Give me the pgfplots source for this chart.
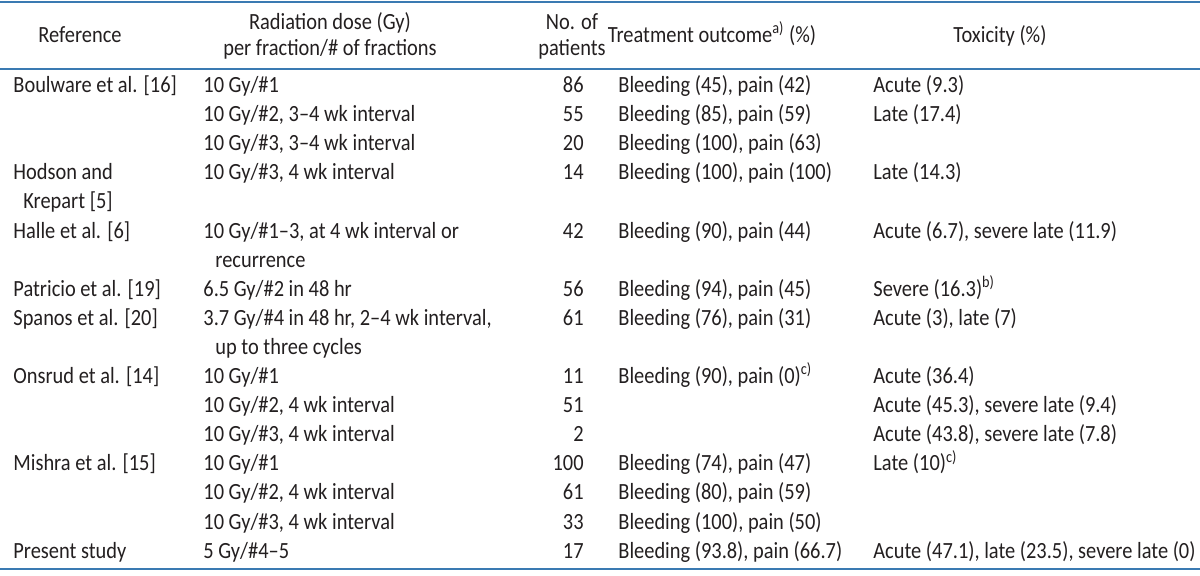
\documentclass[border=0pt]{standalone}
\usepackage{pgfplots}
\pgfplotsset{compat=1.18}
\usepackage{fontspec}
\setmainfont{Carlito}[FakeStretch=0.88]
\definecolor{rule}{HTML}{3A7AB2}
\definecolor{txt}{HTML}{231F20}
\begin{document}
\fontsize{11.6pt}{14pt}\selectfont
\begin{tikzpicture}[every node/.append style={font=\fontsize{11.6pt}{14pt}\selectfont}]
\begin{axis}[name=ax, width=600pt, height=287.5pt, scale only axis,
  xmin=0, xmax=1200, ymin=0, ymax=575, y dir=reverse,
  axis lines=none, clip=false,
  nodes={text=txt, inner sep=0pt}]
% rules
\draw[rule, line width=0.9pt] (axis cs:0,2) -- (axis cs:1200,2);
\draw[rule, line width=0.9pt] (axis cs:0,69) -- (axis cs:1200,69);
\draw[rule, line width=0.9pt] (axis cs:0,569) -- (axis cs:1200,569);
% header
\node[anchor=mid, text=txt, inner sep=0pt] at (axis cs:80,37) {Reference};
\node[anchor=mid, text=txt, inner sep=0pt] at (axis cs:330,24) {Radiation dose (Gy)};
\node[anchor=mid, text=txt, inner sep=0pt] at (axis cs:330,50) {per fraction/\# of fractions};
\node[anchor=mid, text=txt, inner sep=0pt] at (axis cs:572,24) {No. of};
\node[anchor=mid, text=txt, inner sep=0pt] at (axis cs:572,50) {patients};
\node[anchor=mid, text=txt, inner sep=0pt] at (axis cs:712,37) {Treatment outcome\textsuperscript{a)} (\%)};
\node[anchor=mid, text=txt, inner sep=0pt] at (axis cs:1000,37) {Toxicity (\%)};
% column 1
\node[anchor=mid west, text=txt, inner sep=0pt] at (axis cs:13,87.0) {Boulware et al. [16]};
\node[anchor=mid west, text=txt, inner sep=0pt] at (axis cs:13,174.3) {Hodson and};
\node[anchor=mid west, text=txt, inner sep=0pt] at (axis cs:23,203.4) {Krepart [5]};
\node[anchor=mid west, text=txt, inner sep=0pt] at (axis cs:13,232.5) {Halle et al. [6]};
\node[anchor=mid west, text=txt, inner sep=0pt] at (axis cs:13,290.7) {Patricio et al. [19]};
\node[anchor=mid west, text=txt, inner sep=0pt] at (axis cs:13,319.8) {Spanos et al. [20]};
\node[anchor=mid west, text=txt, inner sep=0pt] at (axis cs:13,378.0) {Onsrud et al. [14]};
\node[anchor=mid west, text=txt, inner sep=0pt] at (axis cs:13,465.3) {Mishra et al. [15]};
\node[anchor=mid west, text=txt, inner sep=0pt] at (axis cs:13,552.6) {Present study};
% column 2
\node[anchor=mid west, text=txt, inner sep=0pt] at (axis cs:203,87.0) {10 Gy/\#1};
\node[anchor=mid west, text=txt, inner sep=0pt] at (axis cs:203,116.1) {10 Gy/\#2, 3--4 wk interval};
\node[anchor=mid west, text=txt, inner sep=0pt] at (axis cs:203,145.2) {10 Gy/\#3, 3--4 wk interval};
\node[anchor=mid west, text=txt, inner sep=0pt] at (axis cs:203,174.3) {10 Gy/\#3, 4 wk interval};
\node[anchor=mid west, text=txt, inner sep=0pt] at (axis cs:203,232.5) {10 Gy/\#1--3, at 4 wk interval or};
\node[anchor=mid west, text=txt, inner sep=0pt] at (axis cs:215,261.6) {recurrence};
\node[anchor=mid west, text=txt, inner sep=0pt] at (axis cs:203,290.7) {6.5 Gy/\#2 in 48 hr};
\node[anchor=mid west, text=txt, inner sep=0pt] at (axis cs:203,319.8) {3.7 Gy/\#4 in 48 hr, 2--4 wk interval,};
\node[anchor=mid west, text=txt, inner sep=0pt] at (axis cs:215,348.9) {up to three cycles};
\node[anchor=mid west, text=txt, inner sep=0pt] at (axis cs:203,378.0) {10 Gy/\#1};
\node[anchor=mid west, text=txt, inner sep=0pt] at (axis cs:203,407.1) {10 Gy/\#2, 4 wk interval};
\node[anchor=mid west, text=txt, inner sep=0pt] at (axis cs:203,436.2) {10 Gy/\#3, 4 wk interval};
\node[anchor=mid west, text=txt, inner sep=0pt] at (axis cs:203,465.3) {10 Gy/\#1};
\node[anchor=mid west, text=txt, inner sep=0pt] at (axis cs:203,494.4) {10 Gy/\#2, 4 wk interval};
\node[anchor=mid west, text=txt, inner sep=0pt] at (axis cs:203,523.5) {10 Gy/\#3, 4 wk interval};
\node[anchor=mid west, text=txt, inner sep=0pt] at (axis cs:203,552.6) {5 Gy/\#4--5};
% column 3 (patients)
\node[anchor=mid east, text=txt, inner sep=0pt] at (axis cs:584,87.0) {86};
\node[anchor=mid east, text=txt, inner sep=0pt] at (axis cs:584,116.1) {55};
\node[anchor=mid east, text=txt, inner sep=0pt] at (axis cs:584,145.2) {20};
\node[anchor=mid east, text=txt, inner sep=0pt] at (axis cs:584,174.3) {14};
\node[anchor=mid east, text=txt, inner sep=0pt] at (axis cs:584,232.5) {42};
\node[anchor=mid east, text=txt, inner sep=0pt] at (axis cs:584,290.7) {56};
\node[anchor=mid east, text=txt, inner sep=0pt] at (axis cs:584,319.8) {61};
\node[anchor=mid east, text=txt, inner sep=0pt] at (axis cs:584,378.0) {11};
\node[anchor=mid east, text=txt, inner sep=0pt] at (axis cs:584,407.1) {51};
\node[anchor=mid east, text=txt, inner sep=0pt] at (axis cs:584,436.2) {2};
\node[anchor=mid east, text=txt, inner sep=0pt] at (axis cs:584,465.3) {100};
\node[anchor=mid east, text=txt, inner sep=0pt] at (axis cs:584,494.4) {61};
\node[anchor=mid east, text=txt, inner sep=0pt] at (axis cs:584,523.5) {33};
\node[anchor=mid east, text=txt, inner sep=0pt] at (axis cs:584,552.6) {17};
% column 4
\node[anchor=mid west, text=txt, inner sep=0pt] at (axis cs:618,87.0) {Bleeding (45), pain (42)};
\node[anchor=mid west, text=txt, inner sep=0pt] at (axis cs:618,116.1) {Bleeding (85), pain (59)};
\node[anchor=mid west, text=txt, inner sep=0pt] at (axis cs:618,145.2) {Bleeding (100), pain (63)};
\node[anchor=mid west, text=txt, inner sep=0pt] at (axis cs:618,174.3) {Bleeding (100), pain (100)};
\node[anchor=mid west, text=txt, inner sep=0pt] at (axis cs:618,232.5) {Bleeding (90), pain (44)};
\node[anchor=mid west, text=txt, inner sep=0pt] at (axis cs:618,290.7) {Bleeding (94), pain (45)};
\node[anchor=mid west, text=txt, inner sep=0pt] at (axis cs:618,319.8) {Bleeding (76), pain (31)};
\node[anchor=mid west, text=txt, inner sep=0pt] at (axis cs:618,378.0) {Bleeding (90), pain (0)\textsuperscript{c)}};
\node[anchor=mid west, text=txt, inner sep=0pt] at (axis cs:618,465.3) {Bleeding (74), pain (47)};
\node[anchor=mid west, text=txt, inner sep=0pt] at (axis cs:618,494.4) {Bleeding (80), pain (59)};
\node[anchor=mid west, text=txt, inner sep=0pt] at (axis cs:618,523.5) {Bleeding (100), pain (50)};
\node[anchor=mid west, text=txt, inner sep=0pt] at (axis cs:618,552.6) {Bleeding (93.8), pain (66.7)};
% column 5
\node[anchor=mid west, text=txt, inner sep=0pt] at (axis cs:873,87.0) {Acute (9.3)};
\node[anchor=mid west, text=txt, inner sep=0pt] at (axis cs:873,116.1) {Late (17.4)};
\node[anchor=mid west, text=txt, inner sep=0pt] at (axis cs:873,174.3) {Late (14.3)};
\node[anchor=mid west, text=txt, inner sep=0pt] at (axis cs:873,232.5) {Acute (6.7), severe late (11.9)};
\node[anchor=mid west, text=txt, inner sep=0pt] at (axis cs:873,290.7) {Severe (16.3)\textsuperscript{b)}};
\node[anchor=mid west, text=txt, inner sep=0pt] at (axis cs:873,319.8) {Acute (3), late (7)};
\node[anchor=mid west, text=txt, inner sep=0pt] at (axis cs:873,378.0) {Acute (36.4)};
\node[anchor=mid west, text=txt, inner sep=0pt] at (axis cs:873,407.1) {Acute (45.3), severe late (9.4)};
\node[anchor=mid west, text=txt, inner sep=0pt] at (axis cs:873,436.2) {Acute (43.8), severe late (7.8)};
\node[anchor=mid west, text=txt, inner sep=0pt] at (axis cs:873,465.3) {Late (10)\textsuperscript{c)}};
\node[anchor=mid west, text=txt, inner sep=0pt] at (axis cs:873,552.6) {Acute (47.1), late (23.5), severe late (0)};
\end{axis}
\pgfresetboundingbox
\path (ax.south west) rectangle (ax.north east);
\end{tikzpicture}
\end{document}
